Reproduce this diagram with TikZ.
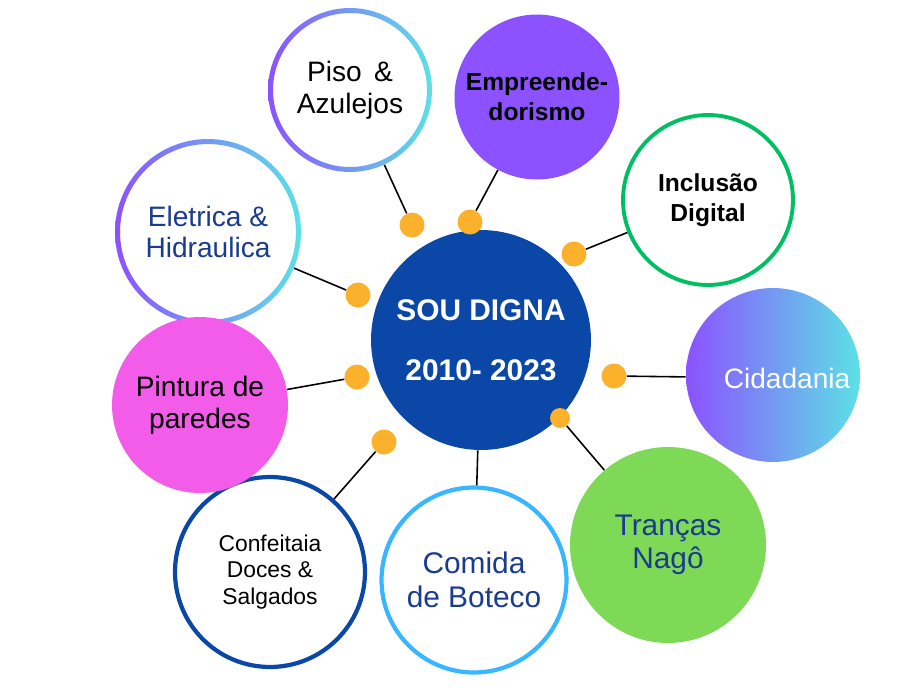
\documentclass[tikz,border=0pt]{standalone}
\usepackage{fontspec}
\setmainfont{Liberation Sans}
\begin{document}
\begin{tikzpicture}[x=0.02cm,y=-0.02cm,
  circ/.style={circle,inner sep=0pt,align=center,font=\fontsize{16}{18}\selectfont},
  dot/.style={circle,fill=dotc,inner sep=0pt,minimum size=0.5cm},
  link/.style={line width=0.9pt,black}]
\definecolor{dotc}{HTML}{FBB12B}
\definecolor{dblue}{HTML}{0A47A6}
\definecolor{purp}{HTML}{8C52FF}
\definecolor{cyan2}{HTML}{5CE1E6}
\definecolor{grn}{HTML}{00BF63}
\definecolor{lgrn}{HTML}{7ED957}
\definecolor{lblue}{HTML}{38B6FF}
\definecolor{mag}{HTML}{F25CE8}
\definecolor{txtblue}{HTML}{1A3C8F}
\useasboundingbox (0,0) rectangle (923,690);
\fill[white] (0,0) rectangle (923,690);
% gradient rings / fill
\shade[even odd rule,left color=purp,right color=cyan2] (350,90) circle (1.64cm) (350,90) circle (1.54cm);
\shade[even odd rule,left color=purp,right color=cyan2] (208,232) circle (1.86cm) (208,232) circle (1.76cm);
\shade[left color=purp,right color=cyan2] (773,375) circle (1.74cm);
% nodes
\node[circ,minimum size=4.4cm,fill=dblue,text=white,font=\fontsize{17}{34}\selectfont\bfseries] (c) at (481,340) {SOU DIGNA\\2010- 2023};
\node[circ,minimum size=3.28cm] (piso) at (350,90) {Piso \,\&\\Azulejos};
\node[circ,minimum size=3.3cm,fill=purp,font=\fontsize{14}{17}\selectfont\bfseries] (emp) at (537,97) {Empreende-\\dorismo};
\node[circ,minimum size=3.4cm,draw=grn,line width=2.2pt,font=\fontsize{14}{17}\selectfont\bfseries] (inc) at (708,200) {Inclusão\\Digital};
\node[circ,minimum size=3.48cm,text=white] (cid) at (773,378) {\quad Cidadania};
\node[circ,minimum size=3.92cm,fill=lgrn,text=txtblue,font=\fontsize{17}{19}\selectfont] (tra) at (668,545) {Tranças\\Nagô};
\node[circ,minimum size=3.7cm,draw=lblue,line width=2.4pt,text=txtblue,font=\fontsize{17}{19}\selectfont] (com) at (474,580) {Comida\\de Boteco};
\node[circ,minimum size=3.8cm,draw=dblue,line width=2.4pt,font=\fontsize{13}{15}\selectfont] (con) at (270,572) {Confeitaia\\Doces \&\\Salgados};
\node[circ,minimum size=3.52cm,fill=mag] (pin) at (200,405) {Pintura de\\paredes};
\node[circ,minimum size=3.72cm,text=txtblue] (ele) at (208,232) {Eletrica \&\\Hidraulica};
% dots
\node[dot] (d1) at (412,225) {};
\node[dot] (d2) at (470,222) {};
\node[dot] (d3) at (574,254) {};
\node[dot] (d4) at (358,295) {};
\node[dot] (d5) at (357,377) {};
\node[dot] (d6) at (384,442) {};
\node[dot] (d7) at (614,376) {};
\node[dot,minimum size=0.4cm] (d8) at (560,418) {};
% links
\draw[link] (d1) -- (piso);
\draw[link] (d2) -- (emp);
\draw[link] (d3) -- (inc);
\draw[link] (d4) -- (ele);
\draw[link] (d5) -- (pin);
\draw[link] (d6) -- (con);
\draw[link] (d7) -- (cid);
\draw[link] (d8) -- (tra);
\draw[link] (c) -- (com);
\end{tikzpicture}
\end{document}
